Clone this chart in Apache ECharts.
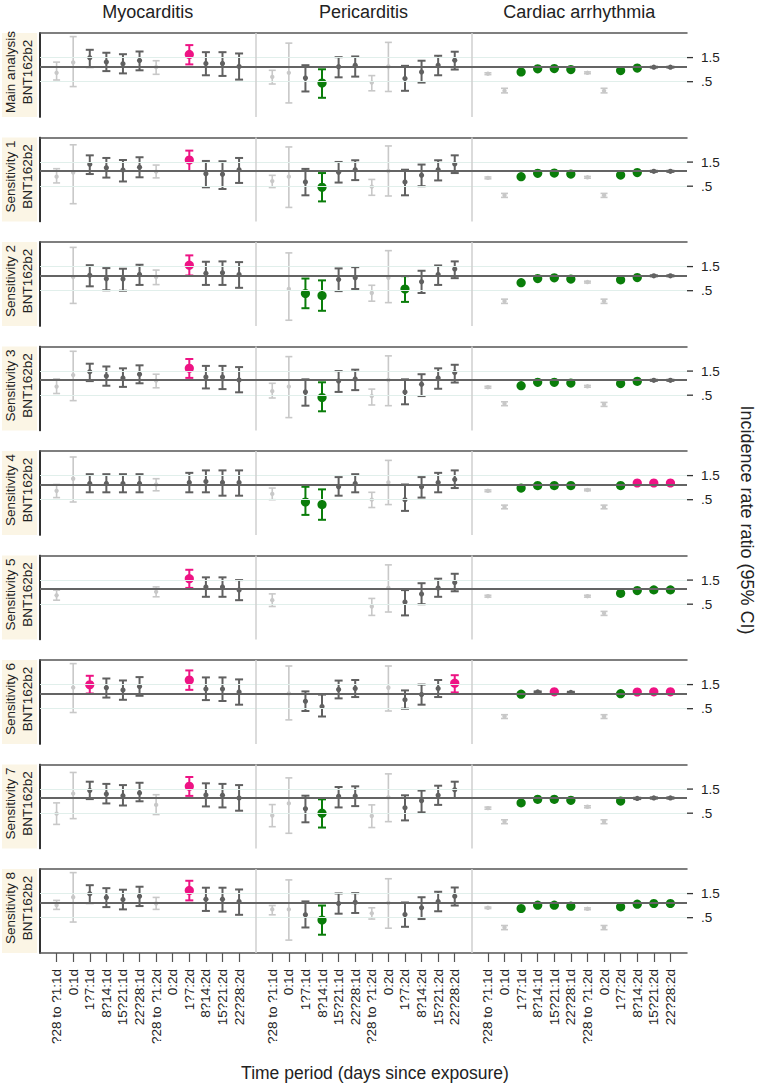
<!DOCTYPE html>
<html>
<head>
<meta charset="utf-8">
<script src="https://cdn.jsdelivr.net/npm/echarts@6/dist/echarts.min.js"></script>
<style>
  html, body { margin: 0; padding: 0; background: #fff; }
  #chart { width: 763px; height: 1084px; }
</style>
</head>
<body>
<div id="chart"></div>
<script>
const outcomes = ['Myocarditis', 'Pericarditis', 'Cardiac arrhythmia'];
const periods = ['?28 to ?1:1d', '0:1d', '1?7:1d', '8?14:1d', '15?21:1d', '22?28:1d',
  '?28 to ?1:2d', '0:2d', '1?7:2d', '8?14:2d', '15?21:2d', '22?28:2d'];
const analyses = ['Main analysis', 'Sensitivity 1', 'Sensitivity 2', 'Sensitivity 3', 'Sensitivity 4',
  'Sensitivity 5', 'Sensitivity 6', 'Sensitivity 7', 'Sensitivity 8'];
const vaccine = 'BNT162b2';
const yTicks = [0.5, 1.5];

// [IRR, lower, upper] for each row: 12 periods myocarditis, 12 pericarditis, 12 arrhythmia
// null = no estimate
const ciMain = [
  [0.75, 0.54, 1.22], [1.2, 0.40, 3.9], [1.49, 0.97, 2.14], [1.22, 0.81, 1.87], [1.13, 0.73, 1.75], [1.31, 0.84, 1.98],
  [0.97, 0.70, 1.30], null, [1.73, 1.10, 2.65], [1.15, 0.67, 1.92], [1.15, 0.65, 1.92], [1.0, 0.55, 1.81],
  [0.62, 0.45, 0.84], [0.75, 0.19, 2.9], [0.59, 0.32, 1.06], [0.47, 0.24, 0.88], [0.99, 0.61, 1.53], [1.06, 0.63, 1.58],
  [0.48, 0.33, 0.66], [1.0, 0.32, 3.0], [0.58, 0.33, 1.03], [0.78, 0.48, 1.30], [1.06, 0.67, 1.63], [1.33, 0.87, 1.96],
  [0.72, 0.69, 0.75], [0.33, 0.30, 0.37], [0.78, 0.76, 0.81], [0.90, 0.88, 0.93], [0.91, 0.89, 0.94], [0.87, 0.85, 0.90],
  [0.75, 0.72, 0.78], [0.33, 0.30, 0.37], [0.83, 0.80, 0.86], [0.93, 0.90, 0.96], [0.97, 0.95, 0.99], [0.97, 0.95, 0.99]
];
const ciSens1 = [
  [0.77, 0.58, 1.11], [0.93, 0.225, 3.3], [1.36, 0.87, 2.04], [1.16, 0.74, 1.81], [1.05, 0.62, 1.65], [1.18, 0.75, 1.87],
  [0.97, 0.73, 1.31], null, [1.65, 1.0, 2.53], [0.885, 0.475, 1.58], [0.86, 0.44, 1.56], [1.06, 0.58, 1.81],
  [0.63, 0.47, 0.82], [0.77, 0.19, 2.99], [0.605, 0.33, 1.10], [0.475, 0.25, 0.91], [0.94, 0.59, 1.51], [1.06, 0.66, 1.63],
  [0.49, 0.33, 0.68], [1.0, 0.32, 3.13], [0.605, 0.33, 1.06], [0.82, 0.50, 1.34], [1.06, 0.65, 1.63], [1.38, 0.91, 2.04],
  [0.73, 0.70, 0.76], [0.33, 0.30, 0.36], [0.77, 0.75, 0.80], [0.90, 0.88, 0.93], [0.91, 0.89, 0.94], [0.87, 0.85, 0.90],
  [0.75, 0.72, 0.78], [0.33, 0.30, 0.36], [0.83, 0.80, 0.86], [0.93, 0.90, 0.96], [0.985, 0.96, 1.01], [0.985, 0.96, 1.01]
];
const ciSens2 = [
  null, [0.93, 0.28, 3.6], [1.015, 0.61, 1.6], [0.86, 0.51, 1.40], [0.85, 0.50, 1.36], [1.05, 0.65, 1.63],
  [0.93, 0.66, 1.28], null, [1.6, 1.0, 2.5], [1.11, 0.65, 1.87], [1.13, 0.65, 1.9], [1.05, 0.57, 1.84],
  null, [0.54, 0.13, 2.8], [0.44, 0.225, 0.87], [0.40, 0.20, 0.80], [0.83, 0.49, 1.38], [0.90, 0.54, 1.46],
  [0.45, 0.31, 0.64], [0.90, 0.29, 3.1], [0.54, 0.30, 0.97], [0.75, 0.45, 1.24], [1.05, 0.65, 1.58], [1.34, 0.885, 1.9],
  null, [0.31, 0.28, 0.34], [0.72, 0.70, 0.75], [0.87, 0.85, 0.90], [0.90, 0.88, 0.93], [0.85, 0.83, 0.88],
  [0.74, 0.71, 0.77], [0.31, 0.28, 0.34], [0.82, 0.79, 0.85], [0.91, 0.88, 0.94], [0.985, 0.96, 1.01], [0.985, 0.96, 1.01]
];
const ciSens3 = [
  [0.74, 0.54, 1.05], [1.25, 0.39, 3.7], [1.45, 0.95, 2.1], [1.2, 0.77, 1.85], [1.1, 0.73, 1.7], [1.3, 0.86, 1.95],
  [0.97, 0.70, 1.3], null, [1.7, 1.1, 2.6], [1.15, 0.68, 1.9], [1.15, 0.66, 1.9], [1.0, 0.57, 1.8],
  [0.60, 0.44, 0.86], [0.74, 0.18, 2.9], [0.58, 0.31, 1.03], [0.45, 0.24, 0.9], [0.95, 0.58, 1.5], [1.05, 0.63, 1.6],
  [0.48, 0.32, 0.66], [1.0, 0.31, 3.0], [0.58, 0.33, 1.03], [0.82, 0.48, 1.3], [1.1, 0.67, 1.7], [1.4, 0.89, 2.0],
  [0.72, 0.69, 0.75], [0.34, 0.31, 0.37], [0.77, 0.75, 0.80], [0.90, 0.88, 0.93], [0.90, 0.88, 0.93], [0.87, 0.85, 0.90],
  [0.75, 0.72, 0.78], [0.33, 0.30, 0.36], [0.85, 0.82, 0.88], [0.94, 0.91, 0.97], [0.985, 0.96, 1.01], [0.985, 0.96, 1.01]
];
const ciSens4 = [
  [0.75, 0.55, 1.0], [1.3, 0.45, 3.5], [1.05, 0.7, 1.6], [1.05, 0.7, 1.6], [1.05, 0.7, 1.6], [1.05, 0.7, 1.6],
  [1.0, 0.75, 1.3], null, [1.1, 0.7, 1.7], [1.15, 0.7, 1.9], [1.1, 0.6, 1.9], [1.1, 0.6, 1.9],
  [0.65, 0.5, 0.85], null, [0.45, 0.25, 0.9], [0.4, 0.2, 0.8], [0.9, 0.6, 1.4], [1.05, 0.7, 1.6],
  [0.5, 0.35, 0.7], [1.1, 0.4, 3.0], [0.5, 0.3, 1.0], [0.9, 0.55, 1.4], [1.1, 0.7, 1.7], [1.25, 0.85, 1.9],
  [0.75, 0.72, 0.78], [0.36, 0.33, 0.39], [0.85, 0.82, 0.88], [0.95, 0.92, 0.98], [0.95, 0.92, 0.98], [0.95, 0.92, 0.98],
  [0.78, 0.75, 0.81], [0.36, 0.33, 0.39], [0.95, 0.92, 0.98], [1.07, 1.04, 1.10], [1.07, 1.04, 1.10], [1.07, 1.04, 1.10]
];
const ciSens5 = [
  [0.75, 0.6, 0.95], null, null, null, null, null,
  [0.88, 0.7, 1.1], null, [1.6, 1.05, 2.4], [1.1, 0.7, 1.7], [1.1, 0.7, 1.7], [0.95, 0.6, 1.5],
  [0.6, 0.45, 0.8], null, null, null, null, null,
  [0.45, 0.3, 0.65], [1.05, 0.35, 3.0], [0.55, 0.3, 0.95], [0.8, 0.5, 1.3], [1.05, 0.7, 1.6], [1.35, 0.9, 2.0],
  [0.72, 0.69, 0.75], null, null, null, null, null,
  [0.72, 0.69, 0.75], [0.33, 0.30, 0.36], [0.82, 0.79, 0.85], [0.93, 0.90, 0.96], [0.96, 0.93, 0.99], [0.96, 0.93, 0.99]
];
const ciSens6 = [
  null, [1.31, 0.42, 3.9], [1.49, 1.0, 2.24], [1.30, 0.83, 1.98], [1.17, 0.75, 1.81], [1.38, 0.90, 2.11],
  null, null, [1.84, 1.18, 2.86], [1.22, 0.74, 2.08], [1.22, 0.71, 2.08], [1.07, 0.60, 1.90],
  null, [1.0, 0.3, 3.5], [0.7, 0.45, 1.1], [0.55, 0.35, 0.95], [1.2, 0.8, 1.8], [1.25, 0.85, 1.85],
  null, [1.3, 0.45, 3.5], [0.75, 0.5, 1.15], [0.95, 0.6, 1.5], [1.25, 0.85, 1.85], [1.6, 1.05, 2.3],
  null, [0.35, 0.32, 0.38], [0.97, 0.94, 1.0], [1.07, 1.04, 1.10], [1.08, 1.05, 1.11], [1.05, 1.02, 1.08],
  null, [0.35, 0.32, 0.38], [0.99, 0.96, 1.02], [1.07, 1.04, 1.10], [1.08, 1.05, 1.11], [1.08, 1.05, 1.11]
];
const ciSens7 = [
  [0.49, 0.30, 0.80], [1.22, 0.39, 3.2], [1.4, 0.95, 2.1], [1.2, 0.78, 1.9], [1.11, 0.71, 1.8], [1.26, 0.86, 2.0],
  [0.73, 0.47, 1.16], null, [1.7, 1.1, 2.6], [1.15, 0.68, 1.95], [1.13, 0.65, 1.9], [1.0, 0.56, 1.8],
  [0.45, 0.27, 0.74], [0.78, 0.20, 2.5], [0.61, 0.33, 1.11], [0.50, 0.26, 0.94], [1.08, 0.65, 1.65], [1.1, 0.69, 1.7],
  [0.44, 0.26, 0.73], [1.03, 0.34, 3.0], [0.64, 0.36, 1.13], [0.88, 0.52, 1.4], [1.13, 0.73, 1.75], [1.45, 1.0, 2.1],
  [0.63, 0.60, 0.66], [0.34, 0.31, 0.37], [0.80, 0.77, 0.83], [0.94, 0.91, 0.97], [0.94, 0.91, 0.97], [0.90, 0.87, 0.93],
  [0.67, 0.64, 0.70], [0.34, 0.31, 0.37], [0.87, 0.84, 0.90], [0.98, 0.95, 1.01], [1.0, 0.97, 1.03], [1.0, 0.97, 1.03]
];
const ciSens8 = [
  [0.885, 0.73, 1.1], [1.27, 0.41, 3.9], [1.49, 0.97, 2.2], [1.26, 0.81, 1.92], [1.15, 0.73, 1.79], [1.33, 0.85, 2.05],
  [0.955, 0.73, 1.26], null, [1.73, 1.1, 2.69], [1.16, 0.68, 1.96], [1.16, 0.66, 1.96], [1.05, 0.57, 1.81],
  [0.73, 0.57, 0.87], [0.73, 0.18, 2.8], [0.57, 0.32, 1.05], [0.45, 0.23, 0.87], [0.955, 0.60, 1.51], [1.015, 0.62, 1.53],
  [0.61, 0.47, 0.785], [0.985, 0.31, 2.95], [0.58, 0.33, 1.0], [0.785, 0.47, 1.27], [1.05, 0.67, 1.63], [1.33, 0.87, 1.98],
  [0.785, 0.76, 0.81], [0.32, 0.29, 0.35], [0.76, 0.74, 0.79], [0.885, 0.86, 0.91], [0.885, 0.86, 0.91], [0.845, 0.82, 0.87],
  [0.75, 0.72, 0.78], [0.32, 0.29, 0.35], [0.82, 0.79, 0.85], [0.925, 0.90, 0.95], [0.955, 0.93, 0.98], [0.955, 0.93, 0.98]
];

// r = reference window, n = not significant, u = raised, d = lowered, - = no estimate
const sigMain  = 'rrnnnnr-unnn' + 'rrndnnrrnnnn' + 'rrddddrrddnn';
const sigSens1 = 'rrnnnnr-unnn' + 'rrndnnrrnnnn' + 'rrddddrrddnn';
const sigSens2 = '-rnnnnr-unnn' + '-rddnnrrdnnn' + '-rddddrrddnn';
const sigSens3 = 'rrnnnnr-unnn' + 'rrndnnrrnnnn' + 'rrddddrrddnn';
const sigSens4 = 'rrnnnnr-nnnn' + 'r-ddnnrrnnnn' + 'rrddddrrduuu';
const sigSens5 = 'r-----r-unnn' + 'r-----rrnnnn' + 'r-----rrdddd';
const sigSens6 = '-runnn--unnn' + '-rnnnn-rnnnu' + '-rdnun-rduuu';
const sigSens7 = 'rrnnnnr-unnn' + 'rrndnnrrnnnn' + 'rrddddrrdnnn';
const sigSens8 = 'rrnnnnr-unnn' + 'rrndnnrrnnnn' + 'rrddddrrdddd';

const rowCI = [ciMain, ciSens1, ciSens2, ciSens3, ciSens4, ciSens5, ciSens6, ciSens7, ciSens8];
const rowSig = [sigMain, sigSens1, sigSens2, sigSens3, sigSens4, sigSens5, sigSens6, sigSens7, sigSens8];

// layout
const FONT = '"Liberation Sans", Arial, Helvetica, sans-serif';
const GRID_LEFT = 40, GRID_RIGHT = 76, GRID_TOP = 33, ROW_STEP = 104.5, ROW_H = 84;
const X_MAX = 39;
const xOf = (g, i) => g * 13 + i + 1; // slot on the x axis, one blank slot between outcomes
const xTickVals = [];
outcomes.forEach((o, g) => periods.forEach((p, i) => xTickVals.push(xOf(g, i))));
const xLabel = v => periods[(Math.round(v) - 1) % 13];

const STYLE = {
  r: { color: '#c8c8c8', r: 2.2, lw: 1.6, cap: 3.5 },
  n: { color: '#606060', r: 2.6, lw: 2, cap: 4 },
  u: { color: '#ee1384', r: 4.6, lw: 2, cap: 4 },
  d: { color: '#0a7d0a', r: 4.6, lw: 2, cap: 4 }
};

function makeRender(codes) {
  return function (params, api) {
    const st = STYLE[codes[params.dataIndex]];
    const x = api.value(0);
    const p = api.coord([x, api.value(1)]);
    const lo = api.coord([x, api.value(2)]);
    const hi = api.coord([x, api.value(3)]);
    const ls = { stroke: st.color, lineWidth: st.lw };
    return {
      type: 'group',
      children: [
        { type: 'line', shape: { x1: p[0], y1: lo[1], x2: p[0], y2: hi[1] }, style: ls },
        { type: 'line', shape: { x1: p[0] - st.cap, y1: lo[1], x2: p[0] + st.cap, y2: lo[1] }, style: ls },
        { type: 'line', shape: { x1: p[0] - st.cap, y1: hi[1], x2: p[0] + st.cap, y2: hi[1] }, style: ls },
        { type: 'circle', shape: { cx: p[0], cy: p[1], r: st.r }, style: { fill: st.color } }
      ]
    };
  };
}

// outward tick marks on the right-hand IRR axis
function renderTick(params, api) {
  const p = api.coord([api.value(0), api.value(1)]);
  return { type: 'line', shape: { x1: p[0], y1: p[1], x2: p[0] + 6, y2: p[1] }, style: { stroke: '#333', lineWidth: 1.3 } };
}

const grids = [], xAxes = [], yAxes = [], series = [], graphics = [];
const nRows = analyses.length;

analyses.forEach((name, k) => {
  const top = GRID_TOP + k * ROW_STEP;
  const last = k === nRows - 1;
  grids.push({ left: GRID_LEFT, right: GRID_RIGHT, top: top, height: ROW_H, outerBoundsMode: 'none' });

  xAxes.push({
    type: 'value', gridIndex: k, position: 'bottom', min: 0, max: X_MAX,
    splitLine: { show: false },
    axisLine: { show: last, lineStyle: { color: '#555', width: 1.5 } },
    axisTick: { show: last, customValues: xTickVals, length: 9, lineStyle: { color: '#555', width: 1.2 } },
    axisLabel: {
      show: last, customValues: xTickVals, rotate: 90, margin: 16,
      formatter: xLabel, color: '#222', fontSize: 13.5, fontFamily: FONT
    }
  });
  xAxes.push({
    type: 'value', gridIndex: k, position: 'top', min: 0, max: X_MAX,
    splitLine: { show: false }, axisTick: { show: false }, axisLabel: { show: false },
    axisLine: { show: true, lineStyle: { color: '#555', width: 1.5 } }
  });

  yAxes.push({
    type: 'log', logBase: 10, gridIndex: k, position: 'right', min: 0.1, max: 4.6,
    splitLine: { show: false }, minorTick: { show: false }, axisTick: { show: false },
    axisLine: { show: true, lineStyle: { color: '#333', width: 1.5 } },
    axisLabel: {
      show: true, customValues: yTicks, margin: 14, color: '#222', fontSize: 13.5, fontFamily: FONT,
      formatter: v => String(v).replace(/^0\./, '.')
    }
  });
  yAxes.push({
    type: 'log', logBase: 10, gridIndex: k, position: 'left', min: 0.1, max: 4.6,
    splitLine: { show: false }, axisTick: { show: false }, axisLabel: { show: false },
    axisLine: { show: true, lineStyle: { color: '#222', width: 1.5 } }
  });

  // guide lines: light lines at the ticks, outcome separators, reference line at IRR = 1
  const faint = { color: '#e1efeb', width: 1.2, type: 'solid' };
  const sep = { color: '#cfcfcf', width: 1.5, type: 'solid' };
  series.push({
    type: 'line', xAxisIndex: 2 * k, yAxisIndex: 2 * k, data: [], z: 1, silent: true,
    markLine: {
      symbol: 'none', silent: true, animation: false, label: { show: false },
      data: [
        ...yTicks.map(t => ({ yAxis: t, lineStyle: faint })),
        { xAxis: 13, lineStyle: sep },
        { xAxis: 26, lineStyle: sep },
        { yAxis: 1, lineStyle: { color: '#646464', width: 2, type: 'solid' } }
      ]
    }
  });
  series.push({
    type: 'custom', xAxisIndex: 2 * k, yAxisIndex: 2 * k, z: 2, silent: true, clip: false,
    data: yTicks.map(t => [X_MAX, t]), renderItem: renderTick
  });

  const data = [], codes = [];
  rowCI[k].forEach((c, j) => {
    if (!c) return;
    const g = Math.floor(j / 12), i = j % 12;
    data.push([xOf(g, i), c[0], c[1], c[2]]);
    codes.push(rowSig[k][j]);
  });
  series.push({
    type: 'custom', xAxisIndex: 2 * k, yAxisIndex: 2 * k, z: 3, silent: true,
    renderItem: makeRender(codes), data: data, clip: false
  });

  // row label box
  graphics.push({
    type: 'rect', left: 2, top: top, shape: { width: 35, height: ROW_H },
    style: { fill: '#fbf5e5' }, z: 0
  });
  graphics.push({
    type: 'text', x: 19, y: top + ROW_H / 2 - 3, rotation: Math.PI / 2,
    style: {
      text: name + '\n' + vaccine, fill: '#222', font: '13.5px ' + FONT,
      textAlign: 'center', textVerticalAlign: 'middle', lineHeight: 17
    }
  });
});

// column titles
outcomes.forEach((o, g) => {
  const cx = GRID_LEFT + (xOf(g, 0) + xOf(g, 11)) / 2 * (763 - GRID_LEFT - GRID_RIGHT) / X_MAX;
  graphics.push({
    type: 'text', x: cx, y: 12,
    style: { text: o, fill: '#222', font: '18px ' + FONT, textAlign: 'center', textVerticalAlign: 'middle' }
  });
});
graphics.push({
  type: 'text', x: 747, y: 520, rotation: -Math.PI / 2,
  style: { text: 'Incidence rate ratio (95% CI)', fill: '#222', font: '18px ' + FONT, textAlign: 'center', textVerticalAlign: 'middle' }
});
graphics.push({
  type: 'text', x: 375, y: 1073,
  style: { text: 'Time period (days since exposure)', fill: '#222', font: '17.5px ' + FONT, textAlign: 'center', textVerticalAlign: 'middle' }
});

const chart = echarts.init(document.getElementById('chart'), null, { renderer: 'svg' });
chart.setOption({
  animation: false,
  backgroundColor: '#fff',
  grid: grids,
  xAxis: xAxes,
  yAxis: yAxes,
  series: series,
  graphic: graphics
});
</script>
</body>
</html>
